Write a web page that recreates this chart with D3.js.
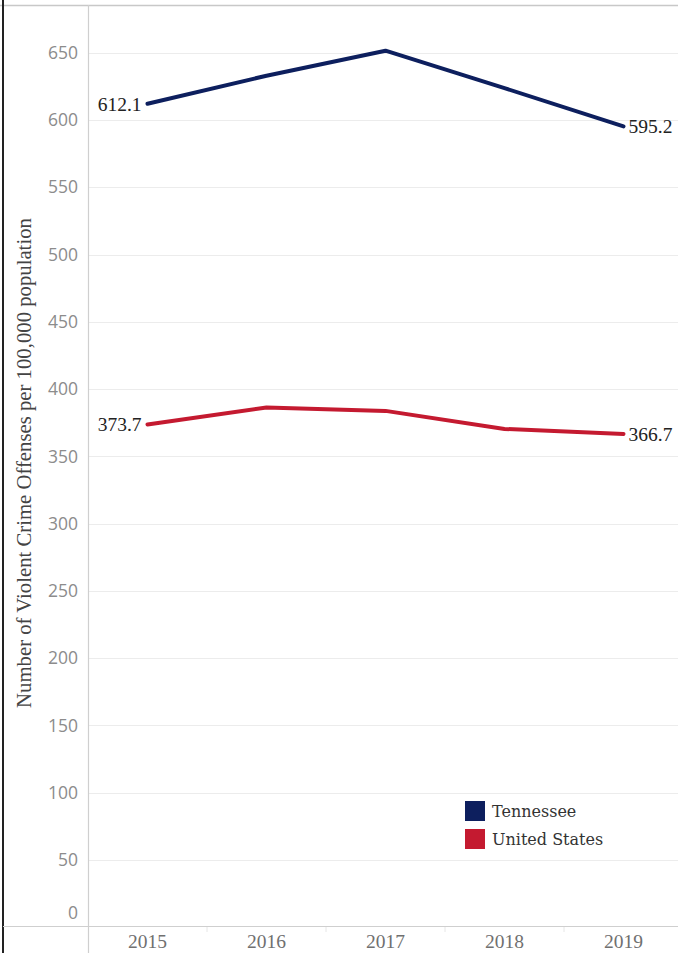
<!DOCTYPE html>
<html>
<head>
<meta charset="utf-8">
<script src="https://cdn.jsdelivr.net/npm/d3@7"></script>
<style>
  html, body { margin: 0; padding: 0; background: #fff; }
  svg { display: block; }
</style>
</head>
<body>
<script>
const years = ["2015", "2016", "2017", "2018", "2019"];
const tennessee = [612.1, 632.9, 651.5, 623.7, 595.2];
const unitedStates = [373.7, 386.3, 383.8, 370.4, 366.7];
const yTicks = [0, 50, 100, 150, 200, 250, 300, 350, 400, 450, 500, 550, 600, 650];
const seriesNames = ["Tennessee", "United States"];
const seriesColors = ["#0d1f5e", "#c41a30"];
const yTitle = "Number of Violent Crime Offenses per 100,000 population";

const W = 678, H = 953;
const svg = d3.select("body").append("svg").attr("width", W).attr("height", H);

const axisX = 88, axisY = 926;
const x = d3.scalePoint().domain(years).range([88, 683]).padding(0.5);
const y = d3.scaleLinear().domain([0, 600]).range([927.3, 120]);

// frame
svg.append("line").attr("x1", 0).attr("x2", W).attr("y1", 5.5).attr("y2", 5.5)
  .attr("stroke", "#c8c8c8").attr("stroke-width", 1.5);
svg.append("line").attr("x1", 3).attr("x2", 3).attr("y1", 0).attr("y2", H)
  .attr("stroke", "#222").attr("stroke-width", 2);

// gridlines
svg.append("g").selectAll("line").data(yTicks.filter(d => d > 0)).join("line")
  .attr("x1", axisX).attr("x2", W)
  .attr("y1", d => Math.round(y(d)) + 0.5).attr("y2", d => Math.round(y(d)) + 0.5)
  .attr("stroke", "#ececec").attr("stroke-width", 1);

// y axis line
svg.append("line").attr("x1", axisX + 0.5).attr("x2", axisX + 0.5).attr("y1", 5).attr("y2", H)
  .attr("stroke", "#cfcfcf").attr("stroke-width", 1.2);
// x axis line
svg.append("line").attr("x1", 3).attr("x2", W).attr("y1", axisY + 0.5).attr("y2", axisY + 0.5)
  .attr("stroke", "#cfcfcf").attr("stroke-width", 1.2);

// x band separators
const step = x.step();
svg.append("g").selectAll("line").data(years.slice(1)).join("line")
  .attr("x1", d => x(d) - step / 2).attr("x2", d => x(d) - step / 2)
  .attr("y1", axisY + 1).attr("y2", axisY + 6)
  .attr("stroke", "#e6e6e6");

// y tick labels
svg.append("g").selectAll("text").data(yTicks).join("text")
  .attr("x", 78)
  .attr("y", d => d === 0 ? axisY - 13 : y(d))
  .attr("dy", "0.35em")
  .attr("text-anchor", "end")
  .attr("font-family", "'Open Sans', 'DejaVu Sans', sans-serif")
  .attr("font-size", 17.5)
  .attr("fill", "#8c8c8c")
  .text(d => d);

// x tick labels
svg.append("g").selectAll("text").data(years).join("text")
  .attr("x", d => x(d)).attr("y", 948)
  .attr("text-anchor", "middle")
  .attr("font-family", "'Liberation Serif', 'DejaVu Serif', serif")
  .attr("font-size", 19.5)
  .attr("fill", "#707070")
  .text(d => d);

// y axis title
const title = svg.append("text")
  .attr("transform", "translate(31,463) rotate(-90)")
  .attr("text-anchor", "middle")
  .attr("font-family", "'Liberation Serif', 'DejaVu Serif', serif")
  .attr("font-size", 18)
  .attr("fill", "#444")
  .text(yTitle);
const tw = title.node().getComputedTextLength();
title.attr("font-size", 18 * 490 / tw);

// lines
const line = d3.line().x((d, i) => x(years[i])).y(d => y(d));
const data = [tennessee, unitedStates];
svg.append("g").selectAll("path").data(data).join("path")
  .attr("d", line)
  .attr("fill", "none")
  .attr("stroke", (d, i) => seriesColors[i])
  .attr("stroke-width", 4)
  .attr("stroke-linejoin", "round")
  .attr("stroke-linecap", "round");

// data labels
const labelFont = "'Liberation Serif', 'DejaVu Serif', serif";
data.forEach(s => {
  svg.append("text")
    .attr("x", x(years[0]) - 6).attr("y", y(s[0])).attr("dy", "0.35em")
    .attr("text-anchor", "end")
    .attr("font-family", labelFont).attr("font-size", 19.5).attr("fill", "#222")
    .text(s[0].toFixed(1));
  const last = s.length - 1;
  svg.append("text")
    .attr("x", x(years[last]) + 5).attr("y", y(s[last])).attr("dy", "0.35em")
    .attr("text-anchor", "start")
    .attr("font-family", labelFont).attr("font-size", 19.5).attr("fill", "#222")
    .text(s[last].toFixed(1));
});

// legend
const lg = svg.append("g").attr("transform", "translate(465,801)");
seriesNames.forEach((name, i) => {
  lg.append("rect").attr("x", 0).attr("y", i * 28).attr("width", 20).attr("height", 20)
    .attr("fill", seriesColors[i]);
  lg.append("text").attr("x", 27).attr("y", i * 28 + 10).attr("dy", "0.35em")
    .attr("font-family", "'DejaVu Serif', 'Liberation Serif', serif").attr("font-size", 16).attr("fill", "#333")
    .attr("textLength", null)
    .text(name);
});
</script>
</body>
</html>
